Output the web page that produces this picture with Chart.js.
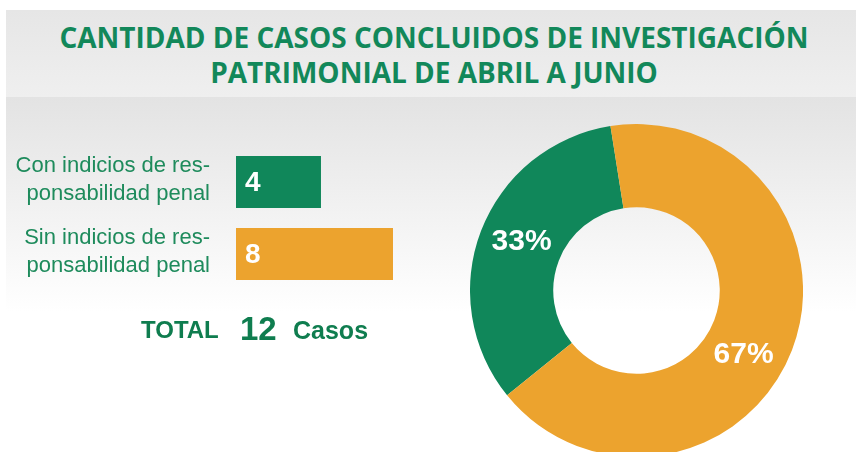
<!DOCTYPE html>
<html><head><meta charset="utf-8">
<script src="https://cdn.jsdelivr.net/npm/chart.js@4.4.1/dist/chart.umd.min.js"></script>
<style>
html,body{margin:0;padding:0;background:#fff;}
#page{position:relative;width:856px;height:452px;overflow:hidden;background:#fff;}
#band{position:absolute;left:6px;top:10px;right:0;height:87px;background:linear-gradient(#e6e6e6,#efefef);}
#grad{position:absolute;left:6px;top:97px;right:0;height:215px;background:linear-gradient(#e3e3e3,#ffffff);}
#title{position:absolute;left:0;width:868px;top:18.5px;text-align:center;font-family:'Open Sans';font-weight:700;font-size:29px;line-height:35px;color:#12885a;transform-origin:434px 0;white-space:nowrap;}
.t{position:absolute;line-height:0;white-space:nowrap;font-family:'Liberation Sans';font-weight:700;color:#0f7d4f;}
canvas{position:absolute;}
</style>
</head><body>
<div id="page">
  <div id="band"></div>
  <div id="grad"></div>
  <div id="title"><div id="l1">CANTIDAD DE CASOS CONCLUIDOS DE INVESTIGACIÓN</div><div id="l2">PATRIMONIAL DE ABRIL A JUNIO</div></div>
  <canvas id="bar" width="440" height="452" style="left:0;top:0"></canvas>
  <canvas id="pie" width="333" height="333" style="left:470px;top:124px"></canvas>
  <div class="t" id="tTotal" style="left:141px;top:330px;font-size:24px">TOTAL</div>
  <div class="t" id="tNum" style="left:240px;top:328.6px;font-size:33px">12</div>
  <div class="t" id="tCasos" style="left:293px;top:329.6px;font-size:25px">Casos</div>
</div>
<script>
// ---- data ----
const categories = [['Con indicios de res-', 'ponsabilidad penal'], ['Sin indicios de res-', 'ponsabilidad penal']];
const caseCounts = [4, 8];
const sliceColors = ['#10875a', '#eca32e'];
const totalCases = caseCounts.reduce((a, b) => a + b, 0);

document.getElementById('tNum').textContent = String(totalCases);

// fit title to reference width
(function () {
  const c = document.createElement('canvas').getContext('2d');
  c.font = "700 29px 'Open Sans'";
  const w = c.measureText(document.getElementById('l1').textContent).width;
  const s = 749 / w;
  document.getElementById('title').style.transform = 'scaleX(' + s + ')';
})();

const AXIS_MIN = -0.72;

const barValues = {
  id: 'barValues',
  afterDatasetsDraw(chart) {
    const ctx = chart.ctx;
    const meta = chart.getDatasetMeta(0);
    meta.data.forEach((bar, i) => {
      ctx.save();
      ctx.fillStyle = '#ffffff';
      ctx.font = "700 28px 'Liberation Sans'";
      ctx.textAlign = 'left';
      ctx.textBaseline = 'middle';
      ctx.fillText(String(caseCounts[i]), bar.base + 9, bar.y + 1);
      ctx.restore();
    });
  }
};

new Chart(document.getElementById('bar'), {
  type: 'bar',
  data: {
    labels: categories,
    datasets: [{
      data: caseCounts,
      backgroundColor: sliceColors,
      base: AXIS_MIN,
      borderWidth: 0,
      barPercentage: 0.722,
      categoryPercentage: 1
    }]
  },
  options: {
    indexAxis: 'y',
    responsive: false,
    animation: false,
    layout: { padding: { top: 146, bottom: 162, left: 0, right: 11 } },
    plugins: { legend: { display: false }, tooltip: { enabled: false } },
    scales: {
      x: { display: false, min: AXIS_MIN, max: 10 },
      y: {
        grid: { display: false, drawTicks: false },
        border: { display: false },
        ticks: {
          color: '#1e8b5c',
          font: { family: "'Liberation Sans'", size: 22, lineHeight: 1.26 },
          padding: 26,
          labelOffset: -2
        },
        afterFit(scale) { scale.width = 236; }
      }
    }
  },
  plugins: [barValues]
});

const pctLabels = {
  id: 'pctLabels',
  afterDatasetsDraw(chart, args, opts) {
    const ctx = chart.ctx;
    const meta = chart.getDatasetMeta(0);
    meta.data.forEach((arc, i) => {
      const shift = (opts.angleShift[i] || 0) * Math.PI / 180;
      const a = (arc.startAngle + arc.endAngle) / 2 + shift;
      const r = (arc.innerRadius + arc.outerRadius) / 2;
      const x = arc.x + Math.cos(a) * r;
      const y = arc.y + Math.sin(a) * r;
      ctx.save();
      ctx.fillStyle = '#ffffff';
      ctx.font = "700 30px 'Liberation Sans'";
      ctx.textAlign = 'center';
      ctx.textBaseline = 'middle';
      ctx.fillText(Math.round(caseCounts[i] / totalCases * 100) + '%', x, y);
      ctx.restore();
    });
  }
};

new Chart(document.getElementById('pie'), {
  type: 'doughnut',
  data: {
    labels: categories.map(l => l.join('')),
    datasets: [{ data: caseCounts, backgroundColor: sliceColors, borderWidth: 0, hoverOffset: 0 }]
  },
  options: {
    responsive: false,
    animation: false,
    rotation: 231,
    cutout: '50%',
    plugins: { legend: { display: false }, tooltip: { enabled: false }, pctLabels: { angleShift: [2, 10] } }
  },
  plugins: [pctLabels]
});
</script>
</body></html>
